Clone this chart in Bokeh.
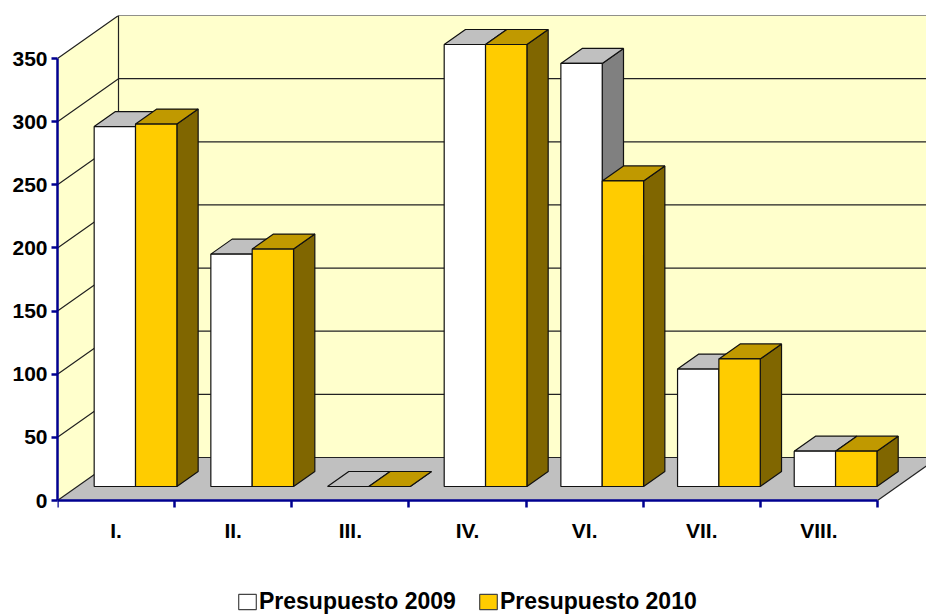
from bokeh.embed import file_html
from bokeh.resources import INLINE
from bokeh.plotting import figure
from bokeh.models import (Range1d, LinearAxis, FixedTicker, Legend, LegendItem)

categories = ["I.", "II.", "III.", "IV.", "VI.", "VII.", "VIII."]
presupuesto_2009 = [285, 184, 0, 350, 335, 93, 28]
presupuesto_2010 = [287, 188, 0, 350, 242, 101, 28]
y_ticks = [0, 50, 100, 150, 200, 250, 300, 350]
series_names = ["Presupuesto 2009", "Presupuesto 2010"]

# Oblique projection: going one full depth unit moves right and up
DEPTH_X = 61 / (820 / 7)      # in category units
DEPTH_Y = 43 * 350 / 442      # in value units
BAR_STEP = 0.996
BAR_W = 0.353
BAR_GAP = 0.1435
D_FRONT = 14 / 43
D_BACK = 29 / 43
N = len(categories)
X_END = N + (926 - 877) * 7 / 820
Y_BOTTOM = -114 * 350 / 442

WALL = "#FFFFCC"
FLOOR = "#C0C0C0"
NAVY = "#000090"
LINE = "#222222"
FACES = [("#FFFFFF", "#C0C0C0", "#808080"), ("#FFCC00", "#C09900", "#806600")]

p = figure(width=926, height=614, output_backend="svg", toolbar_location=None,
           x_range=Range1d(0, X_END), y_range=Range1d(Y_BOTTOM, 350 + DEPTH_Y),
           min_border_left=57, min_border_right=0, min_border_top=15, min_border_bottom=0,
           x_axis_type=None, y_axis_type=None)
p.grid.visible = False
p.outline_line_color = None
p.background_fill_color = "white"
p.border_fill_color = "white"


def prj(x, v, d):
    return x + DEPTH_X * d, v + DEPTH_Y * d


# walls and floor
xs = [[0, DEPTH_X, DEPTH_X, 0],
      [DEPTH_X, X_END, X_END, DEPTH_X],
      [0, N, N + DEPTH_X, DEPTH_X]]
ys = [[0, DEPTH_Y, 350 + DEPTH_Y, 350],
      [DEPTH_Y, DEPTH_Y, 350 + DEPTH_Y, 350 + DEPTH_Y],
      [0, 0, DEPTH_Y, DEPTH_Y]]
p.patches(xs, ys, fill_color=[WALL, WALL, FLOOR], line_color=None)

# grid lines on both walls
gx, gy = [], []
for t in y_ticks:
    gx.append([0, DEPTH_X, X_END])
    gy.append([t, t + DEPTH_Y, t + DEPTH_Y])
p.multi_line(gx, gy, line_color=LINE, line_width=1.2)
p.multi_line([[DEPTH_X, DEPTH_X], [N, X_END]],
             [[DEPTH_Y, 350 + DEPTH_Y], [0, (X_END - N) / DEPTH_X * DEPTH_Y]],
             line_color=LINE, line_width=1.2)

# bars as three faces each, painted back to front
bx, by, bc = [], [], []
for i in range(N):
    for s, vals in enumerate((presupuesto_2009, presupuesto_2010)):
        v = vals[i]
        x0 = i * BAR_STEP + BAR_GAP + s * BAR_W
        x1 = x0 + BAR_W
        f = [prj(x0, 0, D_FRONT), prj(x1, 0, D_FRONT), prj(x1, v, D_FRONT), prj(x0, v, D_FRONT)]
        t = [prj(x0, v, D_FRONT), prj(x1, v, D_FRONT), prj(x1, v, D_BACK), prj(x0, v, D_BACK)]
        r = [prj(x1, 0, D_FRONT), prj(x1, 0, D_BACK), prj(x1, v, D_BACK), prj(x1, v, D_FRONT)]
        front, top, side = FACES[s]
        faces = [(r, side), (t, top)] if v == 0 else [(r, side), (t, top), (f, front)]
        for poly, col in faces:
            bx.append([q[0] for q in poly])
            by.append([q[1] for q in poly])
            bc.append(col)
p.patches(bx, by, fill_color=bc, line_color="#111111", line_width=1.2)

FONT = "Liberation Sans"
y_axis = LinearAxis(ticker=FixedTicker(ticks=y_ticks), bounds=(0, 350),
                    axis_line_color=NAVY, axis_line_width=2.5,
                    major_tick_line_color=NAVY, major_tick_line_width=2.5,
                    major_tick_in=0, major_tick_out=6, minor_tick_line_color=None,
                    major_label_text_font=FONT, major_label_text_font_style="bold",
                    major_label_text_font_size="21px", major_label_text_color="#000000",
                    major_label_standoff=4)
p.add_layout(y_axis, "left")

edge_ticks = list(range(N + 1))
x_axis = LinearAxis(ticker=FixedTicker(ticks=edge_ticks), bounds=(0, N), fixed_location=0,
                    major_label_overrides={t: "" for t in edge_ticks},
                    axis_line_color=NAVY, axis_line_width=2.5,
                    major_tick_line_color=NAVY, major_tick_line_width=2.5,
                    major_tick_in=0, major_tick_out=7, minor_tick_line_color=None,
                    major_label_standoff=0)
p.add_layout(x_axis, "below")

cat_ticks = [i + 0.5 for i in range(N)]
cat_axis = LinearAxis(ticker=FixedTicker(ticks=cat_ticks), fixed_location=0,
                      major_label_overrides={t: c for t, c in zip(cat_ticks, categories)},
                      axis_line_color=None, major_tick_line_color=None, minor_tick_line_color=None,
                      major_tick_in=0, major_tick_out=0,
                      major_label_text_font=FONT, major_label_text_font_style="bold",
                      major_label_text_font_size="21px", major_label_text_color="#000000",
                      major_label_standoff=18)
p.add_layout(cat_axis, "below")

nan = float("nan")
k0 = p.quad(left=[nan], right=[nan], top=[nan], bottom=[nan], fill_color=FACES[0][0], line_color="#444444", line_width=1.2)
k1 = p.quad(left=[nan], right=[nan], top=[nan], bottom=[nan], fill_color=FACES[1][0], line_color="#444444", line_width=1.2)
legend = Legend(items=[LegendItem(label=series_names[0], renderers=[k0]),
                       LegendItem(label=series_names[1], renderers=[k1])],
                orientation="horizontal", location=(179, -1),
                border_line_color=None, background_fill_alpha=0,
                label_text_font=FONT, label_text_font_style="bold", label_text_font_size="23px",
                label_text_color="#000000", glyph_width=22, glyph_height=19,
                label_standoff=1, spacing=21, margin=0, padding=4)
p.add_layout(legend, "center")

open("out.html", "w").write(file_html(p, INLINE))
